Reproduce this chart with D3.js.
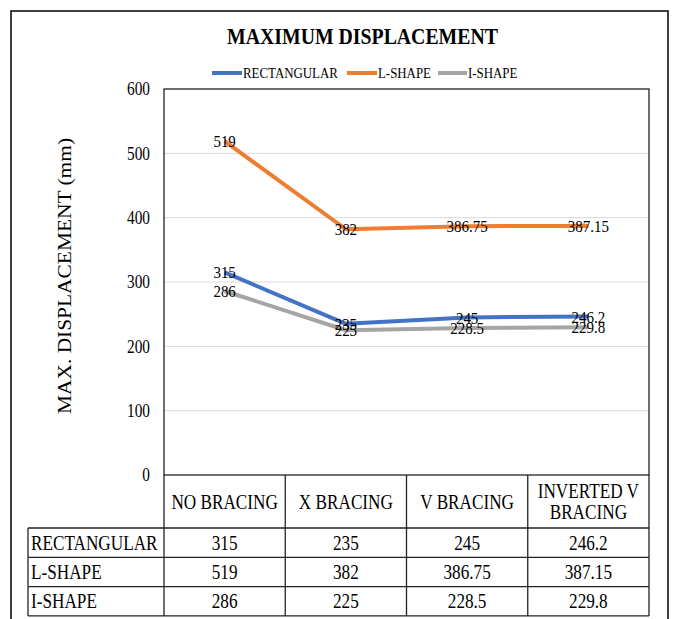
<!DOCTYPE html>
<html>
<head>
<meta charset="utf-8">
<script src="https://cdn.jsdelivr.net/npm/d3@7"></script>
<style>
  html, body { margin: 0; padding: 0; background: #fff; }
  svg { display: block; }
  svg text { font-family: "Liberation Serif", Tinos, "Times New Roman", Times, serif; fill: #000; }
</style>
</head>
<body>
<svg id="chart" width="675" height="619"></svg>
<script>
// Maximum displacement per bracing type, by building plan shape
const categories = ["NO BRACING", "X BRACING", "V BRACING", "INVERTED V BRACING"];
const categoryLines = [["NO BRACING"], ["X BRACING"], ["V BRACING"], ["INVERTED V", "BRACING"]];
const seriesNames = ["RECTANGULAR", "L-SHAPE", "I-SHAPE"];
const rectangular = [315, 235, 245, 246.2];
const lShape = [519, 382, 386.75, 387.15];
const iShape = [286, 225, 228.5, 229.8];
const valueLabels = [
  ["315", "235", "245", "246.2"],
  ["519", "382", "386.75", "387.15"],
  ["286", "225", "228.5", "229.8"]
];
const yTicks = [0, 100, 200, 300, 400, 500, 600];
const colors = ["#4472C4", "#ED7D31", "#A5A5A5"];

const series = [rectangular, lShape, iShape].map((values, i) => ({
  name: seriesNames[i], values, labels: valueLabels[i], color: colors[i]
}));

const FONT = '"Liberation Serif", Tinos, "Times New Roman", Times, serif';
const K = 1.17; // tall, narrow lettering
const svg = d3.select("#chart").attr("font-family", FONT);

// Place a text at (x, y) with its glyphs stretched vertically
function tallText(g, px, py, str, size, anchor = "middle", dy = "0.35em") {
  return g.append("text")
    .attr("transform", `translate(${px},${py}) scale(1,${K})`)
    .attr("text-anchor", anchor)
    .attr("dy", dy)
    .attr("font-size", size)
    .text(str);
}

// Frame around the whole figure
svg.append("path")
  .attr("d", "M11,640 V11 H668 V640")
  .attr("fill", "none").attr("stroke", "#000").attr("stroke-width", 1.5);

const plot = { left: 164, right: 649, top: 89, bottom: 475 };

const x = d3.scaleBand().domain(categories).range([plot.left, plot.right]);
const y = d3.scaleLinear().domain([0, 600]).range([plot.bottom, plot.top]);

// Title
tallText(svg, 362.5, 44, "MAXIMUM DISPLACEMENT", 19.8, "middle", 0)
  .attr("font-weight", "bold");

// Legend
const legendItems = [
  { x: 212, w: 30 }, { x: 347, w: 30 }, { x: 438, w: 29 }
];
const legend = svg.append("g");
series.forEach((s, i) => {
  const it = legendItems[i];
  legend.append("line")
    .attr("x1", it.x).attr("x2", it.x + it.w)
    .attr("y1", 73).attr("y2", 73)
    .attr("stroke", s.color).attr("stroke-width", 4);
  tallText(legend, it.x + it.w + 1, 78, s.name, 12.9, "start", 0);
});

// Gridlines
svg.append("g")
  .selectAll("line")
  .data(yTicks.filter(t => t > 0 && t < 600))
  .join("line")
  .attr("x1", plot.left).attr("x2", plot.right)
  .attr("y1", d => y(d)).attr("y2", d => y(d))
  .attr("stroke", "#d9d9d9").attr("stroke-width", 1);

// Y axis tick labels
const yAxis = d3.axisLeft(y).tickValues(yTicks).tickSize(0).tickPadding(14);
const yAxisG = svg.append("g")
  .attr("transform", `translate(${plot.left},0)`)
  .call(yAxis)
  .attr("font-family", FONT);
yAxisG.select(".domain").remove();
yAxisG.selectAll("text")
  .attr("font-size", 15.3)
  .attr("fill", "#000")
  .attr("transform", `scale(1,${K})`);

// Y axis title
svg.append("text")
  .attr("transform", `translate(71,276) rotate(-90) scale(${K},1)`)
  .attr("text-anchor", "middle")
  .attr("font-size", 18.3)
  .text("MAX. DISPLACEMENT (mm)");

// Plot frame
svg.append("rect")
  .attr("x", plot.left).attr("y", plot.top)
  .attr("width", plot.right - plot.left).attr("height", plot.bottom - plot.top)
  .attr("fill", "none").attr("stroke", "#222").attr("stroke-width", 1.3);

// Series lines
const cxOf = i => x(categories[i]) + x.bandwidth() / 2;
const line = d3.line()
  .x((d, i) => cxOf(i))
  .y(d => y(d));

svg.append("g")
  .selectAll("path")
  .data(series)
  .join("path")
  .attr("d", d => line(d.values))
  .attr("fill", "none")
  .attr("stroke", d => d.color)
  .attr("stroke-width", 4)
  .attr("stroke-linejoin", "round");

// Data labels centred on each point
const labelG = svg.append("g");
series.forEach(s => {
  s.values.forEach((v, i) => {
    tallText(labelG, cxOf(i), y(v), s.labels[i], 15);
  });
});

// Data table beneath the plot
const table = { left: 28, headerBottom: 528, rowH: 29.3 };
const tableBottom = table.headerBottom + table.rowH * 3;
const tg = svg.append("g");
const stroke = "#222";

// Column dividers through header and body
categories.forEach(c => {
  const bx = x(c);
  tg.append("line")
    .attr("x1", bx).attr("x2", bx)
    .attr("y1", plot.bottom).attr("y2", tableBottom)
    .attr("stroke", stroke).attr("stroke-width", 1.3);
});
tg.append("line")
  .attr("x1", plot.right).attr("x2", plot.right)
  .attr("y1", plot.bottom).attr("y2", tableBottom)
  .attr("stroke", stroke).attr("stroke-width", 1.3);
tg.append("line")
  .attr("x1", table.left).attr("x2", table.left)
  .attr("y1", table.headerBottom).attr("y2", tableBottom)
  .attr("stroke", stroke).attr("stroke-width", 1.3);

// Horizontal row lines
for (let r = 0; r <= 3; r++) {
  const ry = table.headerBottom + r * table.rowH;
  tg.append("line")
    .attr("x1", table.left).attr("x2", plot.right)
    .attr("y1", ry).attr("y2", ry)
    .attr("stroke", stroke).attr("stroke-width", 1.3);
}

// Category header text
categoryLines.forEach((lines, i) => {
  const midY = (plot.bottom + table.headerBottom) / 2;
  const lh = 21.5;
  lines.forEach((t, j) => {
    tallText(tg, cxOf(i), midY + (j - (lines.length - 1) / 2) * lh, t, 17.2);
  });
});

// Row headers and values
series.forEach((s, r) => {
  const cy = table.headerBottom + (r + 0.5) * table.rowH;
  tallText(tg, table.left + 3, cy, s.name, 17.2, "start");
  s.labels.forEach((lab, i) => {
    tallText(tg, cxOf(i), cy, lab, 17.2);
  });
});
</script>
</body>
</html>
